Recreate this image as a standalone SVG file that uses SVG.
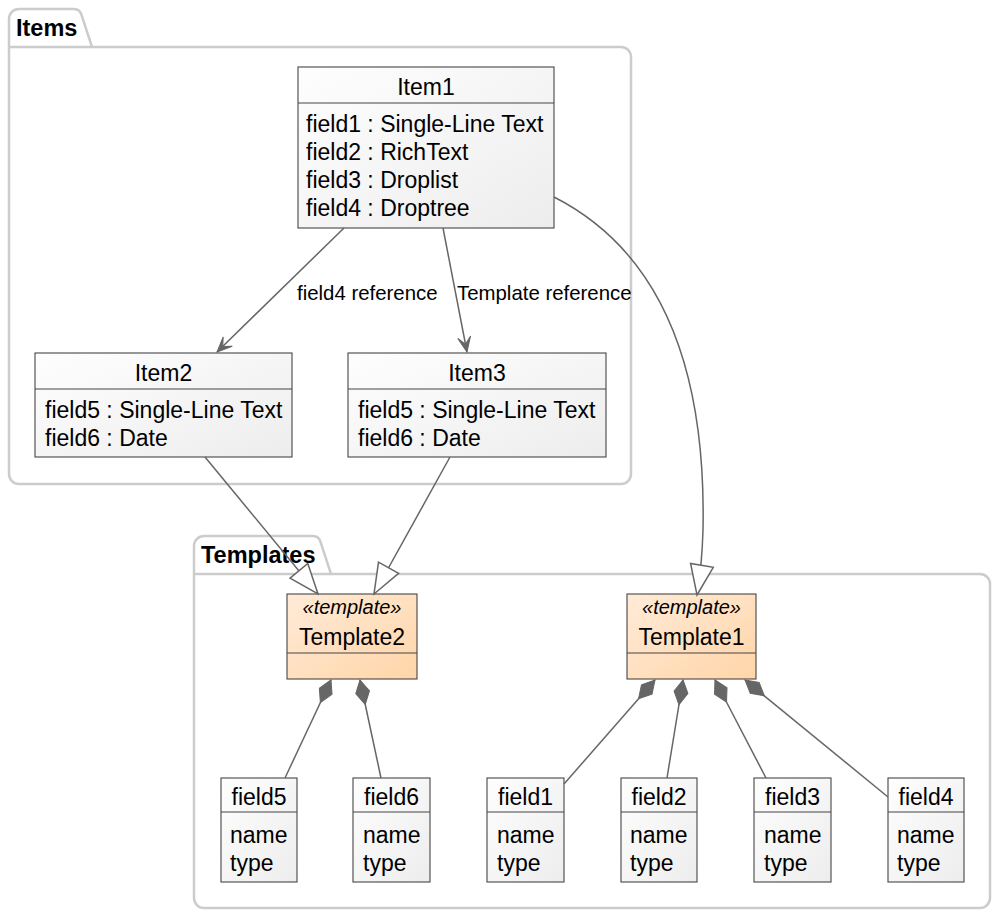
<svg xmlns="http://www.w3.org/2000/svg" width="1000" height="918" viewBox="0 0 1000 918">
<style>
text{font-family:"Liberation Sans",Arial,sans-serif;fill:#000}
.t{font-size:23px}
.c{text-anchor:middle}
.pk{font-size:23.5px;font-weight:bold}
.lbl{font-size:20.4px}
.st{font-size:20px;font-style:italic}
.pkg{fill:#FFFFFF;stroke:#CCCCCC;stroke-width:2.5}
.box{fill:url(#gCls);stroke:#454545;stroke-width:1.1}
.tbox{fill:url(#gTpl);stroke:#454545;stroke-width:1.1}
.sep{stroke:#454545;stroke-width:1.1}
.e{fill:none;stroke:#666666;stroke-width:1.5}
</style>
<defs>
<linearGradient id="gCls" x1="0" y1="0" x2="1" y2="1">
<stop offset="0" stop-color="#FEFEFE"/><stop offset="1" stop-color="#EDEDED"/>
</linearGradient>
<linearGradient id="gTpl" x1="0" y1="0" x2="1" y2="1">
<stop offset="0" stop-color="#FFEBD8"/><stop offset="1" stop-color="#FFD5A8"/>
</linearGradient>
<marker id="arr" viewBox="-17 -9 19 18" markerWidth="19" markerHeight="18" refX="0" refY="0" orient="auto" markerUnits="userSpaceOnUse">
<path d="M0,0 L-15,-6.5 L-8,0 L-15,6.5 Z" fill="#666666" stroke="#666666" stroke-width="1"/>
</marker>
<marker id="tri" viewBox="-33 -14 35 28" markerWidth="35" markerHeight="28" refX="0" refY="0" orient="auto" markerUnits="userSpaceOnUse">
<path d="M0,0 L-30,-11.5 L-30,11.5 Z" fill="#FFFFFF" stroke="#666666" stroke-width="1.5"/>
</marker>
<marker id="dia" viewBox="-2 -9 30 18" markerWidth="30" markerHeight="18" refX="0" refY="0" orient="auto" markerUnits="userSpaceOnUse">
<path d="M0,0 L12.5,-7 L25,0 L12.5,7 Z" fill="#666666" stroke="#666666" stroke-width="1"/>
</marker>
</defs>
<rect x="0" y="0" width="1000" height="918" fill="#FFFFFF"/>

<g id="pkg-items">
<path class="pkg" d="M9,47 V19 A10,10 0 0 1 19,9 H74 A8,8 0 0 1 81.5,15 L92,47 H621 A10,10 0 0 1 631,57 V474 A10,10 0 0 1 621,484 H19 A10,10 0 0 1 9,474 Z"/>
<path d="M9,47 H92" fill="none" stroke="#CCCCCC" stroke-width="2.5"/>
<text class="pk" x="16" y="36">Items</text>
</g>

<g id="pkg-templates">
<path class="pkg" d="M194,574 V546 A10,10 0 0 1 204,536 H313 A8,8 0 0 1 320.5,542 L331,574 H980 A10,10 0 0 1 990,584 V898 A10,10 0 0 1 980,908 H204 A10,10 0 0 1 194,898 Z"/>
<path d="M194,574 H331" fill="none" stroke="#CCCCCC" stroke-width="2.5"/>
<text class="pk" x="201" y="563">Templates</text>
</g>

<g id="Item1">
<rect class="box" x="298" y="67" width="256" height="161"/>
<line class="sep" x1="298" y1="103" x2="554" y2="103"/>
<text class="t c" x="426" y="95">Item1</text>
<text class="t" x="306" y="132">field1 : Single-Line Text</text>
<text class="t" x="306" y="160">field2 : RichText</text>
<text class="t" x="306" y="188">field3 : Droplist</text>
<text class="t" x="306" y="216">field4 : Droptree</text>
</g>

<g id="Item2">
<rect class="box" x="35" y="353" width="257" height="104"/>
<line class="sep" x1="35" y1="389" x2="292" y2="389"/>
<text class="t c" x="163.5" y="381">Item2</text>
<text class="t" x="45" y="418">field5 : Single-Line Text</text>
<text class="t" x="45" y="446">field6 : Date</text>
</g>

<g id="Item3">
<rect class="box" x="348" y="353" width="258" height="104"/>
<line class="sep" x1="348" y1="389" x2="606" y2="389"/>
<text class="t c" x="477" y="381">Item3</text>
<text class="t" x="358" y="418">field5 : Single-Line Text</text>
<text class="t" x="358" y="446">field6 : Date</text>
</g>

<g id="Template2">
<rect class="tbox" x="287" y="594" width="130" height="85"/>
<line class="sep" x1="287" y1="653" x2="417" y2="653"/>
<text class="st c" x="352" y="614">«template»</text>
<text class="t c" x="352" y="645">Template2</text>
</g>

<g id="Template1">
<rect class="tbox" x="627" y="594" width="129" height="85"/>
<line class="sep" x1="627" y1="653" x2="756" y2="653"/>
<text class="st c" x="691.5" y="614">«template»</text>
<text class="t c" x="691.5" y="645">Template1</text>
</g>

<g id="field5">
<rect class="box" x="221" y="778" width="76" height="104"/>
<line class="sep" x1="221" y1="812" x2="297" y2="812"/>
<text class="t c" x="259" y="805">field5</text>
<text class="t" x="230" y="843">name</text>
<text class="t" x="230" y="871">type</text>
</g>

<g id="field6">
<rect class="box" x="353" y="778" width="77" height="104"/>
<line class="sep" x1="353" y1="812" x2="430" y2="812"/>
<text class="t c" x="391.5" y="805">field6</text>
<text class="t" x="363" y="843">name</text>
<text class="t" x="363" y="871">type</text>
</g>

<g id="field1">
<rect class="box" x="487" y="778" width="77" height="104"/>
<line class="sep" x1="487" y1="812" x2="564" y2="812"/>
<text class="t c" x="525.5" y="805">field1</text>
<text class="t" x="497" y="843">name</text>
<text class="t" x="497" y="871">type</text>
</g>

<g id="field2">
<rect class="box" x="621" y="778" width="76" height="104"/>
<line class="sep" x1="621" y1="812" x2="697" y2="812"/>
<text class="t c" x="659" y="805">field2</text>
<text class="t" x="630" y="843">name</text>
<text class="t" x="630" y="871">type</text>
</g>

<g id="field3">
<rect class="box" x="754" y="778" width="77" height="104"/>
<line class="sep" x1="754" y1="812" x2="831" y2="812"/>
<text class="t c" x="792.5" y="805">field3</text>
<text class="t" x="764" y="843">name</text>
<text class="t" x="764" y="871">type</text>
</g>

<g id="field4">
<rect class="box" x="888" y="778" width="76" height="104"/>
<line class="sep" x1="888" y1="812" x2="964" y2="812"/>
<text class="t c" x="926" y="805">field4</text>
<text class="t" x="897" y="843">name</text>
<text class="t" x="897" y="871">type</text>
</g>

<g id="connectors">
<path class="e" d="M344,228 L217,352" marker-end="url(#arr)"/>
<text class="lbl" x="297" y="300">field4 reference</text>
<path class="e" d="M443,228 L467,352" marker-end="url(#arr)"/>
<text class="lbl" x="457" y="300">Template reference</text>
<path class="e" d="M554,197 C668,255 706,380 703,530 Q702,565 697,595" marker-end="url(#tri)"/>
<path class="e" d="M205,457 L318,594" marker-end="url(#tri)"/>
<path class="e" d="M450,457 L374,594" marker-end="url(#tri)"/>
<path class="e" d="M331,680 L285,778" marker-start="url(#dia)"/>
<path class="e" d="M360,680 L381,778" marker-start="url(#dia)"/>
<path class="e" d="M655,680 L564,784" marker-start="url(#dia)"/>
<path class="e" d="M683,680 L667,778" marker-start="url(#dia)"/>
<path class="e" d="M715,680 L766,778" marker-start="url(#dia)"/>
<path class="e" d="M745,680 L888,797" marker-start="url(#dia)"/>
</g>
</svg>
